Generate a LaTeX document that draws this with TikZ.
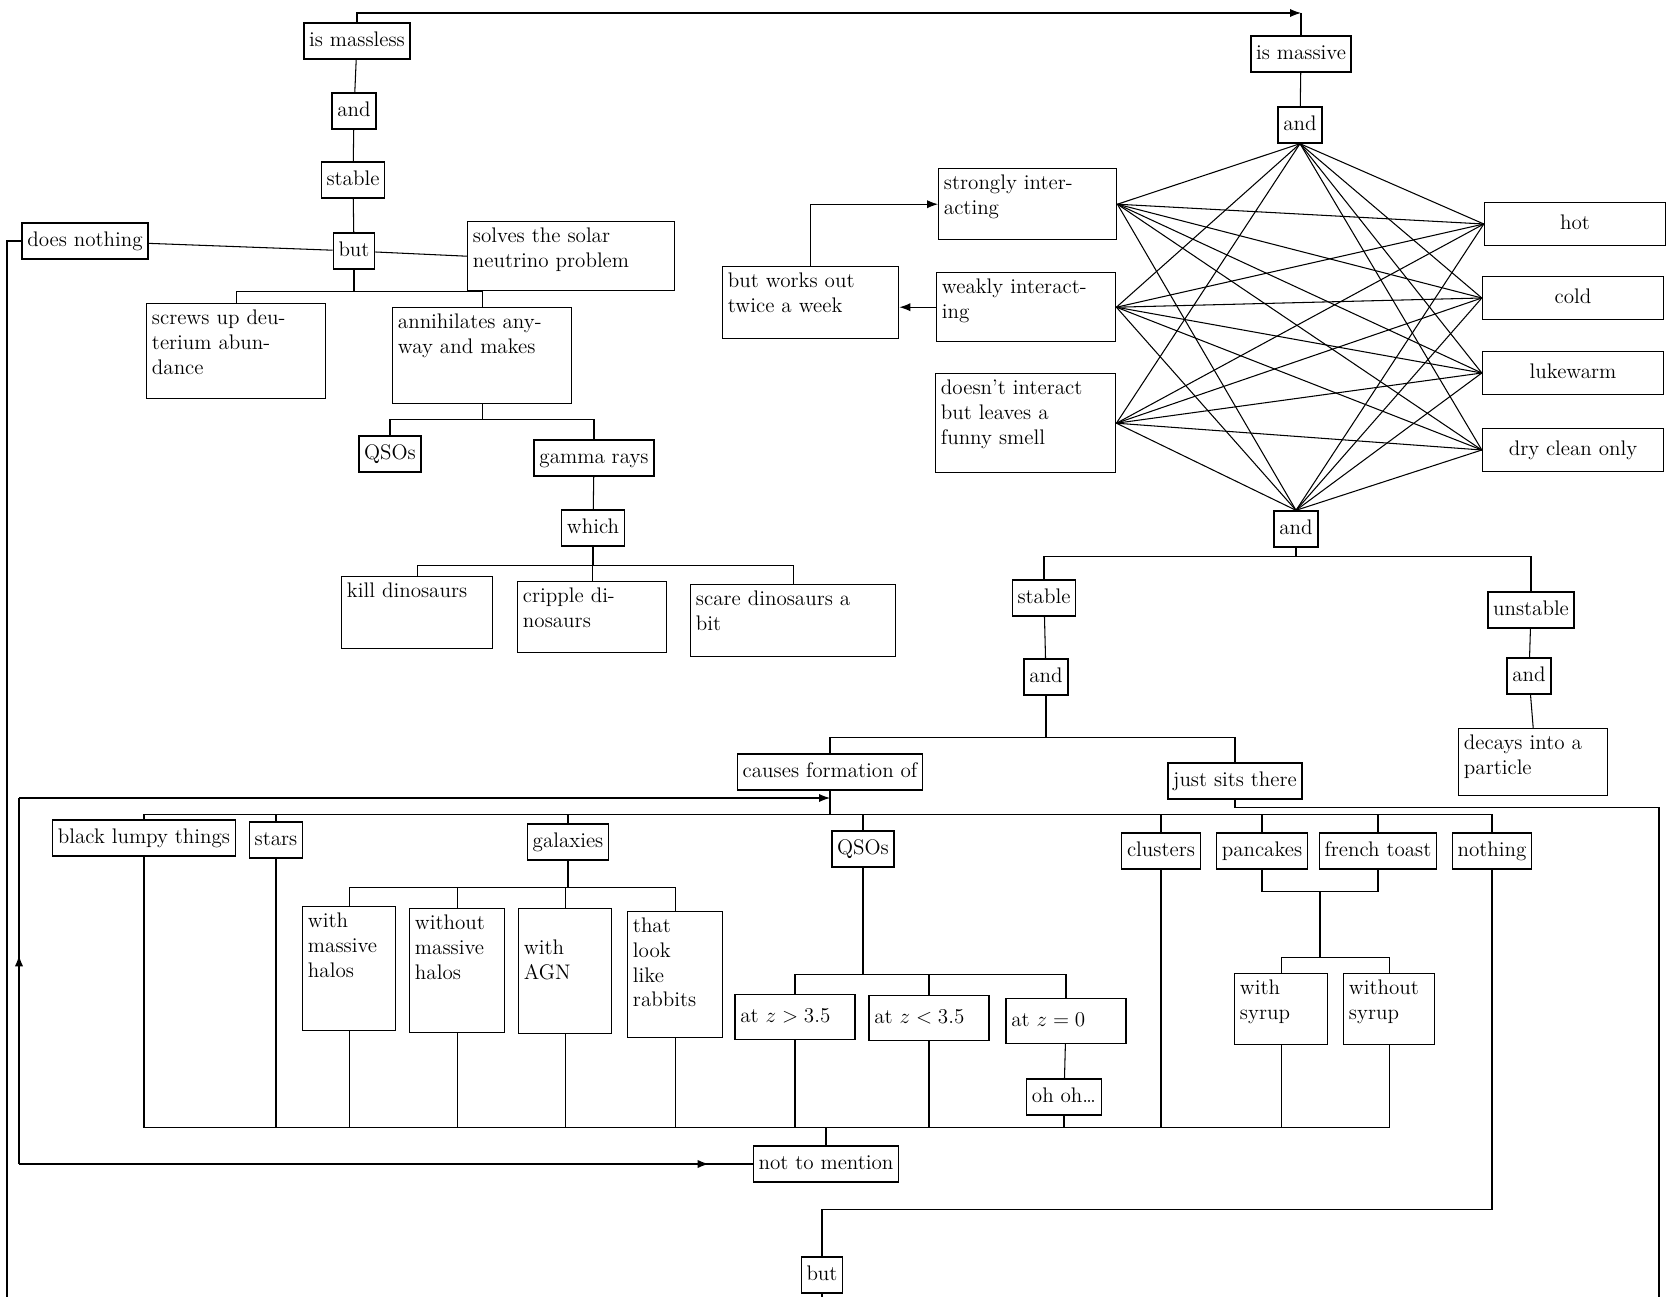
\documentclass[tikz,border=0pt]{standalone}
\usepackage{tikz}
\usetikzlibrary{arrows.meta, calc, decorations.markings}

\begin{document}
\begin{tikzpicture}[
    x=0.02cm, y=-0.02cm,
    every node/.style={font=\large},
    box/.style={draw, thick, inner sep=3pt, minimum height=0.72cm,
                text height=0.32cm, text depth=0.11cm},
    para/.style 2 args={box, anchor=north west, align=left, minimum height=0pt,
                text width=#1, text depth=#2},
    temp/.style={box, minimum width=3.62cm, minimum height=0.86cm},
    zbox/.style={box, text width=2.19cm, align=left, minimum height=0.9cm},
    wire/.style={semithick},
    web/.style={semithick},
    tip/.style={-{Latex[length=2.2mm]}},
    midarrow/.style={postaction={decorate}, decoration={markings,
                mark=at position #1 with {\arrow{Latex[length=2.2mm]}}}}
  ]
  \useasboundingbox (0,0) rectangle (1671,1297);

  % massless branch
  \node[box] (massless) at (357,41) {is massless};
  \node[box] (and1) at (354,111) {and};
  \node[box] (stable1) at (353,180) {stable};
  \node[box] (but1) at (354,251) {but};
  \node[box] (nothing1) at (85,241) {does nothing};
  \node[para={3.93cm}{0.85cm}] (solves) at (467,221) {solves the solar\\neutrino problem};
  \node[para={3.37cm}{1.37cm}] (screws) at (146,303) {screws up deu-\\terium abun-\\dance};
  \node[para={3.37cm}{1.39cm}] (annih) at (392,307) {annihilates any-\\way and makes};
  \node[box] (qso1) at (390,454) {QSOs};
  \node[box] (gamma) at (594,458) {gamma rays};
  \node[box] (which) at (593,528) {which};
  \node[para={2.81cm}{0.91cm}] (kill) at (341,576) {kill dinosaurs};
  \node[para={2.77cm}{0.89cm}] (cripple) at (517,581) {cripple di-\\nosaurs};
  \node[para={3.89cm}{0.91cm}] (scare) at (690,584) {scare dinosaurs a\\bit};

  % massive branch
  \node[box] (massive) at (1301,54) {is massive};
  \node[box] (and2) at (1300,125) {and};
  \node[para={3.35cm}{0.89cm}] (strong) at (938,168) {strongly inter-\\acting};
  \node[para={3.37cm}{0.85cm}] (weak) at (936,272) {weakly interact-\\ing};
  \node[para={3.39cm}{1.45cm}] (noint) at (935,373) {doesn't interact\\but leaves a\\funny smell};
  \node[para={3.31cm}{0.91cm}] (works) at (722,266) {but works out\\twice a week};
  \node[temp] (hot) at (1575,224) {hot};
  \node[temp] (cold) at (1573,298) {cold};
  \node[temp] (luke) at (1573,373) {lukewarm};
  \node[temp] (dry) at (1573,450) {dry clean only};
  \node[box] (and3) at (1296,529) {and};

  \node[box] (stable2) at (1044,598) {stable};
  \node[box] (unstable) at (1531,610) {unstable};
  \node[box] (and4) at (1046,677) {and};
  \node[box] (and5) at (1529,676) {and};
  \node[para={2.77cm}{0.81cm}] (decays) at (1458,728) {decays into a\\particle};
  \node[box] (causes) at (830,772) {causes formation of};
  \node[box] (sits) at (1235,781) {just sits there};

  % things formed
  \node[box] (lumpy) at (144,838) {black lumpy things};
  \node[box] (stars) at (276,840) {stars};
  \node[box] (galaxies) at (568,842) {galaxies};
  \node[box] (qso2) at (863,849) {QSOs};
  \node[box] (clusters) at (1161,851) {clusters};
  \node[box] (pancakes) at (1262,851) {pancakes};
  \node[box] (toast) at (1378,851) {french toast};
  \node[box] (nothing2) at (1492,851) {nothing};

  \node[para={1.65cm}{1.95cm}] (halos1) at (302,906) {with\\massive\\halos};
  \node[para={1.69cm}{1.95cm}] (halos2) at (409,908) {without\\massive\\halos};
  \node[para={1.65cm}{1.97cm}] (agn) at (518,908) {\mbox{}\\with\\AGN};
  \node[para={1.69cm}{1.99cm}] (rabbits) at (627,911) {that\\look\\like\\rabbits};
  \node[zbox] (z1) at (795,1017) {at $z > 3.5$};
  \node[zbox] (z2) at (929,1018) {at $z < 3.5$};
  \node[zbox] (z3) at (1066,1021) {at $z = 0$};
  \node[box] (ohoh) at (1064,1097) {oh oh\dots};
  \node[para={1.65cm}{0.89cm}] (syrup1) at (1234,973) {with\\syrup};
  \node[para={1.61cm}{0.89cm}] (syrup2) at (1343,973) {without\\syrup};

  \node[box] (mention) at (826,1164) {not to mention};
  \node[box] (but2) at (822,1275) {but};

  % loose ends
  \coordinate (topc) at (1301,13);
  \coordinate (lend) at (7,1297);
  \coordinate (rend) at (1659,1297);
  \coordinate (bend) at (822,1297);
  \coordinate (loopt) at (19,798);
  \coordinate (loopb) at (19,1164);

  % connectors, upper left
  \draw[wire, tip] (massless.north) |- (topc);
  \draw[wire] (topc) -- (massive.north);
  \draw[wire] (massless) -- (and1) -- (stable1) -- (but1);
  \draw[wire] (nothing1) -- (but1);
  \draw[wire] (solves.west) -- (but1);
  \draw[wire] (nothing1.west) -| (lend);
  \draw[wire] (but1.south) -- ++(0,22) coordinate (j1);
  \draw[wire] (screws.north) |- (j1) -| (annih.north);
  \draw[wire] (annih.south) -- ++(0,15) coordinate (j2);
  \draw[wire] (qso1.north) |- (j2) -| (gamma.north);
  \draw[wire] (gamma) -- (which);
  \draw[wire] (which.south) -- ++(0,19) coordinate (j3);
  \draw[wire] (kill.north) |- (j3) -| (scare.north);
  \draw[wire] (j3) -| (cripple.north);

  % the web
  \draw[wire] (massive) -- (and2);
  \foreach \l in {strong,weak,noint} {
    \draw[web] (and2.south) -- (\l.east);
    \draw[web] (and3.north) -- (\l.east);
    \foreach \r in {hot,cold,luke,dry}
      \draw[web] (\l.east) -- (\r.west);
  }
  \foreach \r in {hot,cold,luke,dry} {
    \draw[web] (and2.south) -- (\r.west);
    \draw[web] (and3.north) -- (\r.west);
  }
  \draw[wire, tip] (weak.west) -- (weak.west -| works.east);
  \draw[wire, tip] (works.north) |- (strong.west);

  % lower right
  \draw[wire] (and3.south) -- ++(0,9) coordinate (j4);
  \draw[wire] (stable2.north) |- (j4) -| (unstable.north);
  \draw[wire] (stable2) -- (and4);
  \draw[wire] (unstable) -- (and5);
  \draw[wire] (and5) -- (decays.north);
  \draw[wire] (and4.south) -- ++(0,42) coordinate (j5);
  \draw[wire] (causes.north) |- (j5) -| (sits.north);
  \draw[wire] (causes.south) -- ++(0,24) coordinate (j6);
  \foreach \n in {lumpy,stars,galaxies,qso2,clusters,pancakes,toast,nothing2}
    \draw[wire] (j6) -| (\n.north);
  \draw[wire] (sits.south) -- ++(0,8) -| (rend);

  % feedback loop
  \draw[wire, midarrow=0.57] (loopb) -- (loopt);
  \draw[wire, tip] (loopt) -- (loopt -| causes.south);
  \draw[wire, midarrow=0.94] (loopb) -- (mention.west);

  % sub-trees
  \draw[wire] (galaxies.south) -- ++(0,27) coordinate (j7);
  \foreach \n in {halos1,halos2,agn,rabbits}
    \draw[wire] (j7) -| (\n.north);
  \draw[wire] (qso2.south) -- ++(0,107) coordinate (j8);
  \foreach \n in {z1,z2,z3}
    \draw[wire] (j8) -| (\n.north);
  \draw[wire] (z3) -- (ohoh);
  \coordinate (j9) at ($(pancakes.south)!0.5!(toast.south)+(0,22)$);
  \draw[wire] (pancakes.south) |- (j9) -| (toast.south);
  \draw[wire] (j9) -- ++(0,66) coordinate (j10);
  \draw[wire] (syrup1.north) |- (j10) -| (syrup2.north);

  % down to the bottom
  \draw[wire] (mention.north) -- ++(0,-18) coordinate (j11);
  \foreach \n in {lumpy,stars,halos1,halos2,agn,rabbits,z1,z2,ohoh,clusters,syrup1,syrup2}
    \draw[wire] (j11) -| (\n.south);
  \coordinate (j12) at ($(but2.north)+(0,-47)$);
  \draw[wire] (nothing2.south) |- (j12) -- (but2.north);
  \draw[wire] (but2.south) -- (bend);
\end{tikzpicture}
\end{document}
